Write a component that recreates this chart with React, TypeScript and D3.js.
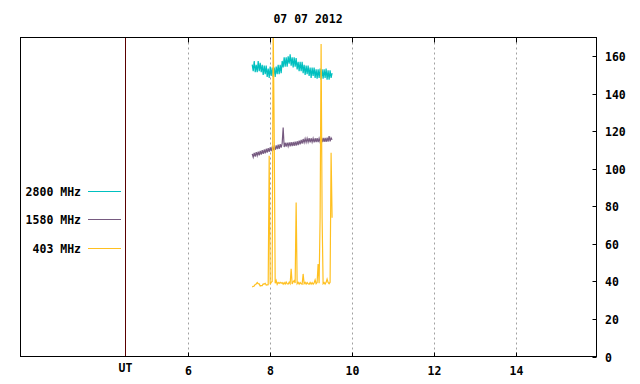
import React from "react";
import * as d3 from "d3";

// ---- data ----
const TITLE = "07 07 2012";
const X_TICKS = [6, 8, 10, 12, 14];
const Y_TICKS = [0, 20, 40, 60, 80, 100, 120, 140, 160];
const UT_POS = 4.46;
const T0 = 7.56; // hours UT of first sample
const DT = 1 / 41; // sample spacing, hours

const SERIES_NAMES = ["2800 MHz", "1580 MHz", "403 MHz"];
const SERIES_COLORS = ["#00c0c0", "#765a80", "#ffc020"];

const flux2800 = [
  155.5, 152, 157.5, 151.5, 155.5, 151.5, 157.5, 152, 156.5, 151.5,
  155.5, 150, 155, 150.5, 155, 149, 153.5, 148.5, 154.5, 149.5,
  154, 149, 154, 149, 154.5, 150.5, 155.5, 150.5, 155.5, 151,
  157.5, 154, 159.5, 154.5, 159.5, 154.5, 160, 156, 161, 155,
  159.5, 154, 159.5, 154.5, 159, 153, 157, 152, 157, 152,
  157, 151, 155.5, 150, 155, 150.5, 155, 149.5, 154, 148.5,
  154, 149.5, 154, 148.5, 153, 148, 153, 148.5, 153.5, 147.5,
  153, 148, 153, 148.5, 153.5, 147.5, 152.5, 147.5, 152.5, 148.5, 151,
];

const flux1580 = [
  108, 106.2, 108.5, 106.5, 108.9, 107, 109.2, 107.2, 109.6, 107.6,
  110, 108, 110.3, 108.3, 110.7, 108.7, 111, 109.1, 111.5, 109.4,
  111.8, 109.8, 112, 110.1, 112.5, 110.5, 112.9, 110.7, 113.2, 111.3,
  113.6, 122, 111.6, 113.9, 111.8, 114, 112, 114.1, 112, 114.2,
  112.1, 114.3, 112.2, 114.5, 112.4, 114.7, 112.7, 115, 113.1, 115.4,
  113.5, 115.9, 114, 116.1, 114.1, 116.2, 114.2, 116.3, 114.1, 116.3,
  114.2, 116.2, 114.1, 116.3, 114.2, 116.4, 114.2, 116.3, 114.3, 116.4,
  114.3, 116.5, 114.4, 116.5, 114.4, 116.6, 114.5, 117.5, 114.6, 116.5, 115.5,
];

const flux403 = [
  37, 37.4, 37.6, 38.4, 38.6, 39.4, 38.8, 38.7, 37.6, 37.8,
  37.8, 38.7, 38.6, 39, 38.1, 38.2, 38.3, 107, 38.5, 39.5,
  40, 178, 121, 39, 40.5, 38.5, 39.5, 39, 39.5, 39,
  39.4, 38.6, 39.4, 38.6, 39.7, 38.8, 38.6, 39.6, 38.8, 46.8,
  38.6, 39.8, 40.4, 39.2, 82, 38.8, 39.5, 38.6, 39.4, 38.8,
  38.6, 44, 38.8, 39.5, 38.6, 39.4, 38.8, 38.5, 39.5, 38.6,
  39.4, 38.5, 39.2, 40.8, 38.8, 39.4, 49.3, 39, 73.8, 166.5,
  74, 38.8, 39.4, 38.6, 39.5, 41.3, 39.5, 38.8, 39.6, 108.6, 74,
];

const SERIES = [flux2800, flux1580, flux403];

// ---- layout ----
const W = 640;
const H = 384;
const L = 20.5;
const R = 596.5;
const T = 37.5;
const B = 356.5;
const FONT = "'DejaVu Sans Mono', 'Liberation Mono', monospace";

export default function App() {
  const x = d3.scaleLinear().domain([1.9, 15.97]).range([L, R]);
  const y = d3.scaleLinear().domain([0, 170]).range([B, T]);

  const line = d3
    .line<number>()
    .x((_, i) => x(T0 + i * DT))
    .y((v) => y(v));

  const legendY = [191.5, 219.5, 248.5];

  return (
    <div style={{ position: "absolute", left: 0, top: 0 }}>
      <svg width={W} height={H} style={{ display: "block" }} fontFamily={FONT}>
        <rect x={0} y={0} width={W} height={H} fill="#fff" />
        <defs>
          <clipPath id="plotclip">
            <rect x={L} y={T} width={R - L} height={B - T} />
          </clipPath>
        </defs>

        {/* vertical grid lines */}
        {X_TICKS.map((t) => (
          <line
            key={"g" + t}
            x1={Math.round(x(t)) + 0.5}
            x2={Math.round(x(t)) + 0.5}
            y1={T}
            y2={B}
            stroke="#a0a0a0"
            strokeWidth={1}
            strokeDasharray="2,3"
          />
        ))}

        {/* UT line */}
        <line
          x1={Math.round(x(UT_POS)) + 0.5}
          x2={Math.round(x(UT_POS)) + 0.5}
          y1={T}
          y2={B}
          stroke="#5a0000"
          strokeWidth={1}
        />

        {/* series */}
        <g clipPath="url(#plotclip)">
          {SERIES.map((s, k) => (
            <path
              key={k}
              d={line(s) || ""}
              fill="none"
              stroke={SERIES_COLORS[k]}
              strokeWidth={1.2}
            />
          ))}
        </g>

        {/* border */}
        <rect x={L} y={T} width={R - L} height={B - T} fill="none" stroke="#000" strokeWidth={1} />

        {/* x ticks (bottom and top, inward) */}
        {X_TICKS.map((t) => {
          const xx = Math.round(x(t)) + 0.5;
          return (
            <g key={"xt" + t}>
              <line x1={xx} x2={xx} y1={B} y2={B - 4} stroke="#000" />
              <line x1={xx} x2={xx} y1={T} y2={T + 5} stroke="#000" />
              <text
                x={xx}
                y={371}
                textAnchor="middle"
                dominantBaseline="central"
                fontSize={11.5}
                fontWeight="bold"
              >
                {t}
              </text>
            </g>
          );
        })}
        <text
          x={Math.round(x(UT_POS)) + 0.5}
          y={368}
          textAnchor="middle"
          dominantBaseline="central"
          fontSize={11.5}
          fontWeight="bold"
        >
          UT
        </text>

        {/* y ticks on right */}
        {Y_TICKS.map((v) => {
          const yy = Math.round(y(v)) + 0.5;
          return (
            <g key={"yt" + v}>
              <line x1={R} x2={R - 4} y1={yy} y2={yy} stroke="#000" />
              <text
                x={605}
                y={yy}
                textAnchor="start"
                dominantBaseline="central"
                fontSize={11.5}
                fontWeight="bold"
              >
                {v}
              </text>
            </g>
          );
        })}

        {/* title */}
        <text
          x={308}
          y={18.5}
          textAnchor="middle"
          dominantBaseline="central"
          fontSize={11.5}
          fontWeight="bold"
        >
          {TITLE}
        </text>

        {/* legend */}
        {SERIES_NAMES.map((n, k) => (
          <g key={"lg" + k}>
            <text
              x={81}
              y={legendY[k]}
              textAnchor="end"
              dominantBaseline="central"
              fontSize={11.5}
              fontWeight="bold"
            >
              {n}
            </text>
            <line
              x1={88}
              x2={121}
              y1={legendY[k]}
              y2={legendY[k]}
              stroke={SERIES_COLORS[k]}
              strokeWidth={1}
            />
          </g>
        ))}
      </svg>
    </div>
  );
}
